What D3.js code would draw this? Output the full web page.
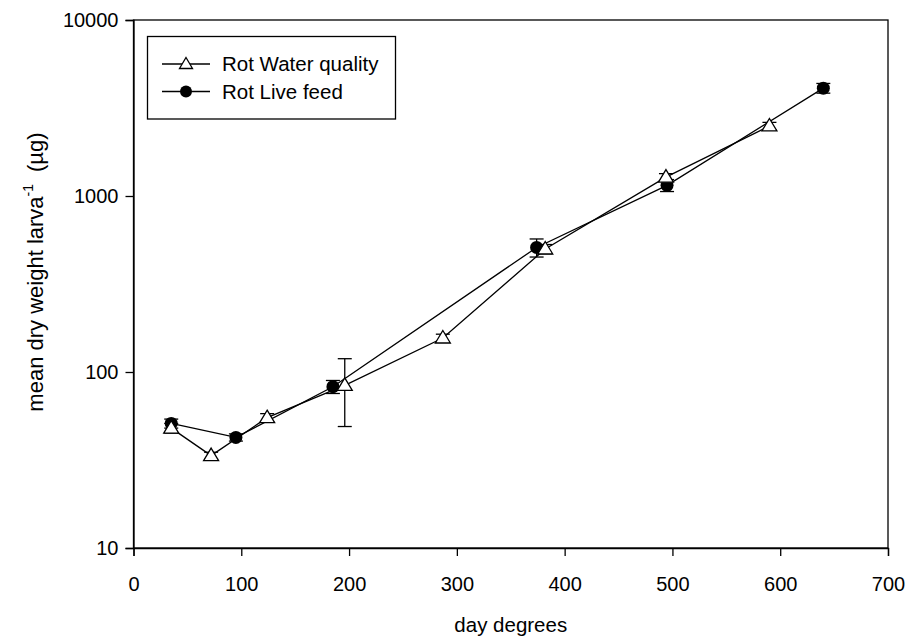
<!DOCTYPE html>
<html>
<head>
<meta charset="utf-8">
<script src="https://cdn.jsdelivr.net/npm/d3@7"></script>
<style>
  body { margin: 0; background: #fff; }
  svg { font-family: "Liberation Sans", Arial, sans-serif; }
</style>
</head>
<body>
<div id="chart"></div>
<script>
// Rot Water quality (triangles)
var waterX = [35, 72, 124, 196, 287, 382, 494, 590];
var waterY = [48, 33.5, 55, 84, 156, 500, 1280, 2500];
var waterErr = [3, 1.5, 3, 35, 8, 30, 60, 120];
// Rot Live feed (circles)
var feedX = [35, 95, 185, 374, 495, 640];
var feedY = [51, 42.5, 82.5, 510, 1150, 4100];
var feedErr = [3, 2, 7, 60, 90, 260];

var xTicks = [0, 100, 200, 300, 400, 500, 600, 700];
var yTicks = [10, 100, 1000, 10000];

var width = 907, height = 638;
var pLeft = 133.5, pRight = 888, pTop = 20, pBottom = 548;

var svg = d3.select("#chart").append("svg")
  .attr("width", width)
  .attr("height", height);

var x = d3.scaleLinear().domain([0, 700]).range([pLeft, pRight]);
var y = d3.scaleLog().domain([10, 10000]).range([pBottom, pTop]);

// frame
svg.append("rect")
  .attr("x", pLeft).attr("y", pTop)
  .attr("width", pRight - pLeft).attr("height", pBottom - pTop)
  .attr("fill", "none").attr("stroke", "#000").attr("stroke-width", 1.3);

var xAxis = svg.append("g")
  .attr("transform", "translate(0," + pBottom + ")")
  .call(d3.axisBottom(x).tickValues(xTicks).tickSize(8).tickPadding(21).tickFormat(d3.format("d")));
var yAxis = svg.append("g")
  .attr("transform", "translate(" + pLeft + ",0)")
  .call(d3.axisLeft(y).tickValues(yTicks).tickSize(8).tickPadding(7).tickFormat(d3.format("d")));

[xAxis, yAxis].forEach(function(g) {
  g.select(".domain").attr("stroke-width", 1.3);
  g.selectAll(".tick line").attr("stroke-width", 1.3);
  g.selectAll(".tick text").attr("font-size", 20).attr("fill", "#000")
    .attr("font-family", "'Liberation Sans', Arial, sans-serif");
});

// axis titles
svg.append("text")
  .attr("x", (pLeft + pRight) / 2).attr("y", 632)
  .attr("text-anchor", "middle").attr("font-size", 20.5)
  .text("day degrees");

var yt = svg.append("text")
  .attr("transform", "translate(43,272) rotate(-90)")
  .attr("text-anchor", "middle").attr("font-size", 22);
yt.append("tspan").text("mean dry weight larva");
yt.append("tspan").attr("dy", -10).attr("font-size", 14).text("-1");
yt.append("tspan").attr("dy", 10).attr("dx", 12).text("(\u00b5g)");

function drawSeries(xs, ys, es, kind) {
  var pts = xs.map(function(d, i) { return {x: d, y: ys[i], e: es[i]}; });
  var g = svg.append("g");
  g.append("path")
    .datum(pts)
    .attr("fill", "none").attr("stroke", "#000").attr("stroke-width", 1.3)
    .attr("d", d3.line().x(function(d) { return x(d.x); }).y(function(d) { return y(d.y); }));
  var eb = g.selectAll(".err").data(pts).join("g")
    .attr("stroke", "#000").attr("stroke-width", 1.3);
  eb.append("line")
    .attr("x1", function(d) { return x(d.x); }).attr("x2", function(d) { return x(d.x); })
    .attr("y1", function(d) { return y(d.y + d.e); }).attr("y2", function(d) { return y(d.y - d.e); });
  eb.append("line")
    .attr("x1", function(d) { return x(d.x) - 7; }).attr("x2", function(d) { return x(d.x) + 7; })
    .attr("y1", function(d) { return y(d.y + d.e); }).attr("y2", function(d) { return y(d.y + d.e); });
  eb.append("line")
    .attr("x1", function(d) { return x(d.x) - 7; }).attr("x2", function(d) { return x(d.x) + 7; })
    .attr("y1", function(d) { return y(d.y - d.e); }).attr("y2", function(d) { return y(d.y - d.e); });
  if (kind === "tri") {
    g.selectAll(".m").data(pts).join("path")
      .attr("transform", function(d) { return "translate(" + x(d.x) + "," + y(d.y) + ")"; })
      .attr("d", "M0,-7.5L7.5,5L-7.5,5Z")
      .attr("fill", "#fff").attr("stroke", "#000").attr("stroke-width", 1.3);
  } else {
    g.selectAll(".m").data(pts).join("circle")
      .attr("cx", function(d) { return x(d.x); }).attr("cy", function(d) { return y(d.y); })
      .attr("r", 6.5).attr("fill", "#000");
  }
}

drawSeries(feedX, feedY, feedErr, "circ");
drawSeries(waterX, waterY, waterErr, "tri");

// legend
var lg = svg.append("g");
lg.append("rect")
  .attr("x", 147.5).attr("y", 36.5).attr("width", 248).attr("height", 82.5)
  .attr("fill", "#fff").attr("stroke", "#000").attr("stroke-width", 1.3);
var entries = [{label: "Rot Water quality", kind: "tri", yy: 64}, {label: "Rot Live feed", kind: "circ", yy: 91.5}];
entries.forEach(function(e) {
  lg.append("line").attr("x1", 162).attr("x2", 210).attr("y1", e.yy).attr("y2", e.yy)
    .attr("stroke", "#000").attr("stroke-width", 1.3);
  if (e.kind === "tri") {
    lg.append("path").attr("transform", "translate(186," + e.yy + ")")
      .attr("d", "M0,-6.5L6.5,4.5L-6.5,4.5Z")
      .attr("fill", "#fff").attr("stroke", "#000").attr("stroke-width", 1.3);
  } else {
    lg.append("circle").attr("cx", 186).attr("cy", e.yy).attr("r", 6).attr("fill", "#000");
  }
  lg.append("text").attr("x", 222).attr("y", e.yy + 7).attr("font-size", 20.5).text(e.label);
});
</script>
</body>
</html>
